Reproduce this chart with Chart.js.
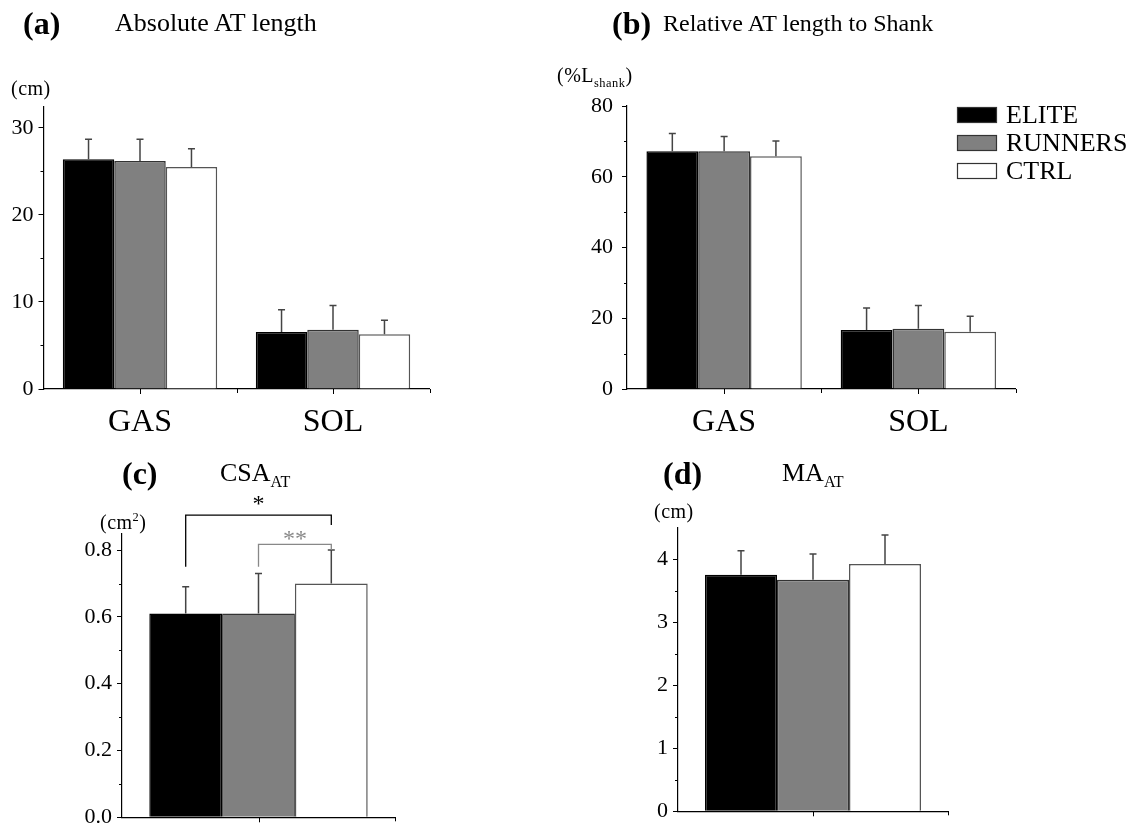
<!DOCTYPE html>
<html>
<head>
<meta charset="utf-8">
<script src="https://cdn.jsdelivr.net/npm/chart.js@4.4.1/dist/chart.umd.min.js"></script>
<style>
  body { margin: 0; background: #fff; }
  #wrap { position: relative; width: 1138px; height: 830px; font-family: 'Liberation Serif', 'Times New Roman', serif; color: #000; }
  canvas { position: absolute; }
  .t { position: absolute; white-space: nowrap; line-height: 30px; height: 30px; }
  .lt { font-weight: bold; font-size: 32px; }
  .ti { font-size: 26px; }
  .un { font-size: 20px; letter-spacing: 0.5px; }
  sub, sup { font-size: 62%; line-height: 0; }
</style>
</head>
<body>
<div id="wrap">
  <canvas id="chartA" width="560" height="440" style="left:0;top:0"></canvas>
  <canvas id="chartB" width="578" height="440" style="left:560px;top:0"></canvas>
  <canvas id="chartC" width="560" height="390" style="left:0;top:440px"></canvas>
  <canvas id="chartD" width="578" height="390" style="left:560px;top:440px"></canvas>

  <div class="t lt" style="left:23px;top:8px">(a)</div>
  <div class="t ti" style="left:115px;top:8px">Absolute AT length</div>
  <div class="t lt" style="left:612px;top:8px">(b)</div>
  <div class="t ti" style="left:663px;top:8px;font-size:24px">Relative AT length to Shank</div>
  <div class="t lt" style="left:122px;top:458px">(c)</div>
  <div class="t ti" style="left:220px;top:458px">CSA<sub>AT</sub></div>
  <div class="t lt" style="left:663px;top:458px">(d)</div>
  <div class="t ti" style="left:782px;top:458px">MA<sub>AT</sub></div>

  <div class="t un" style="left:11px;top:73px">(cm)</div>
  <div class="t un" style="left:557px;top:60px">(%L<sub>shank</sub>)</div>
  <div class="t un" style="left:100px;top:507px">(cm<sup>2</sup>)</div>
  <div class="t un" style="left:654px;top:496px">(cm)</div>
</div>

<script>
var groups = ['ELITE', 'RUNNERS', 'CTRL'];
var muscles = ['GAS', 'SOL'];

// (a) absolute AT length, cm
var absElite = [26.4, 6.55];
var absRunners = [26.2, 6.8];
var absCtrl = [25.5, 6.3];
var absEliteSd = [2.3, 2.55];
var absRunnersSd = [2.5, 2.8];
var absCtrlSd = [2.1, 1.6];
var absTicks = [0, 10, 20, 30];
var absMinor = [5, 15, 25];

// (b) relative AT length, % shank
var relElite = [67.2, 16.7];
var relRunners = [67.2, 17.0];
var relCtrl = [65.8, 16.2];
var relEliteSd = [5.0, 6.2];
var relRunnersSd = [4.2, 6.6];
var relCtrlSd = [4.3, 4.4];
var relTicks = [0, 20, 40, 60, 80];
var relMinor = [10, 30, 50, 70];

// (c) CSA, cm2
var csaMean = [0.61, 0.61, 0.70];
var csaSd = [0.08, 0.12, 0.10];
var csaTicks = [0, 0.2, 0.4, 0.6, 0.8];
var csaMinor = [0.1, 0.3, 0.5, 0.7];

// (d) moment arm, cm
var maMean = [3.75, 3.67, 3.92];
var maSd = [0.38, 0.41, 0.46];
var maTicks = [0, 1, 2, 3, 4];
var maMinor = [0.5, 1.5, 2.5, 3.5];

// significance brackets in (c): group index from/to, y of legs and bar
var sigFrom = [0, 1];
var sigTo = [2, 2];
var sigStart = [0.75, 0.75];
var sigTop = [0.905, 0.817];
var sigEnd = [0.875, 0.80];
var sigLabel = ['*', '**'];
var sigColor = ['#000', '#888'];

var fills = ['#000000', '#808080', '#ffffff'];
var edges = ['#000000', '#333333', '#555555'];
var serif = "'Liberation Serif', 'Times New Roman', serif";

function groupedSets(values, sds) {
    var sets = [];
    for (var i = 0; i < groups.length; i++) {
        sets.push({
            label: groups[i],
            data: values[i],
            sd: sds[i],
            backgroundColor: fills[i],
            borderColor: edges[i],
            borderWidth: 1.5,
            categoryPercentage: 0.8,
            barPercentage: 1.0
        });
    }
    return sets;
}

function singleSets(means, sds) {
    var v = [], s = [];
    for (var i = 0; i < means.length; i++) {
        v.push([means[i]]);
        s.push([sds[i]]);
    }
    return groupedSets(v, s);
}

// error bars, minor ticks, x ticks
var decoPlugin = {
    id: 'deco',
    afterDatasetsDraw: function (chart) {
        var ctx = chart.ctx;
        var ys = chart.scales.y;
        var xs = chart.scales.x;
        ctx.save();
        chart.data.datasets.forEach(function (ds, i) {
            var meta = chart.getDatasetMeta(i);
            meta.data.forEach(function (bar, j) {
                var top = ys.getPixelForValue(ds.data[j] + ds.sd[j]);
                ctx.strokeStyle = '#444';
                ctx.lineWidth = 1.5;
                ctx.beginPath();
                ctx.moveTo(bar.x, bar.y);
                ctx.lineTo(bar.x, top);
                ctx.moveTo(bar.x - 3.5, top);
                ctx.lineTo(bar.x + 3.5, top);
                ctx.stroke();
            });
        });
        // minor y ticks
        ctx.strokeStyle = '#000';
        ctx.lineWidth = 1;
        var minor = chart.options.plugins.deco.minor;
        minor.forEach(function (v) {
            var py = Math.round(ys.getPixelForValue(v)) + 0.5;
            ctx.beginPath();
            ctx.moveTo(chart.chartArea.left - 3, py);
            ctx.lineTo(chart.chartArea.left, py);
            ctx.stroke();
        });
        // x ticks at centres and boundaries
        var n = chart.data.labels.length;
        var w = (chart.chartArea.right - chart.chartArea.left) / n;
        var yb = chart.chartArea.bottom;
        for (var k = 0; k < n; k++) {
            var cx = Math.round(xs.getPixelForValue(k)) + 0.5;
            var bx = Math.round(xs.getPixelForValue(k) + w / 2) + 0.5;
            ctx.beginPath();
            ctx.moveTo(cx, yb);
            ctx.lineTo(cx, yb + 5);
            ctx.moveTo(bx, yb);
            ctx.lineTo(bx, yb + 4);
            ctx.stroke();
        }
        ctx.restore();
    },
    afterDraw: function (chart) {
        var o = chart.options.plugins.deco;
        var ctx = chart.ctx;
        ctx.save();
        if (o.legend) {
            chart.data.datasets.forEach(function (ds, i) {
                var cy = 115 + i * 28;
                ctx.fillStyle = ds.backgroundColor;
                ctx.fillRect(397, cy - 8, 40, 16);
                ctx.strokeStyle = '#333';
                ctx.lineWidth = 1.2;
                ctx.strokeRect(397.5, cy - 7.5, 39, 15);
                ctx.fillStyle = '#000';
                ctx.font = '26px ' + serif;
                ctx.textBaseline = 'middle';
                ctx.fillText(ds.label, 446, cy + 1);
            });
        }
        if (o.sig) {
            var ys = chart.scales.y;
            for (var s = 0; s < sigFrom.length; s++) {
                var x1 = chart.getDatasetMeta(sigFrom[s]).data[0].x;
                var x2 = chart.getDatasetMeta(sigTo[s]).data[0].x;
                var yt = ys.getPixelForValue(sigTop[s]);
                ctx.strokeStyle = sigColor[s];
                ctx.lineWidth = 1.3;
                ctx.beginPath();
                ctx.moveTo(x1, ys.getPixelForValue(sigStart[s]));
                ctx.lineTo(x1, yt);
                ctx.lineTo(x2, yt);
                ctx.lineTo(x2, ys.getPixelForValue(sigEnd[s]));
                ctx.stroke();
                ctx.fillStyle = sigColor[s];
                ctx.font = '24px ' + serif;
                ctx.textAlign = 'center';
                ctx.textBaseline = 'middle';
                ctx.fillText(sigLabel[s], (x1 + x2) / 2, yt - (s === 0 ? 10 : 5));
            }
        }
        ctx.restore();
    }
};

function makeChart(id, labels, sets, yMax, ticks, minor, fmt, box, extra) {
    var c = document.getElementById(id);
    return new Chart(c.getContext('2d'), {
        type: 'bar',
        data: { labels: labels, datasets: sets },
        plugins: [decoPlugin],
        options: {
            responsive: false,
            animation: false,
            layout: { padding: { top: box.top, right: box.right, left: 0, bottom: 0 } },
            plugins: {
                legend: { display: false },
                tooltip: { enabled: false },
                deco: { minor: minor, legend: extra.legend, sig: extra.sig }
            },
            scales: {
                x: {
                    grid: { display: false, drawTicks: false },
                    border: { display: true, color: '#000', width: 1.2 },
                    ticks: { font: { family: serif, size: 32 }, color: '#000', padding: 14, maxRotation: 0 },
                    afterFit: function (s) { s.height = box.xh; s.paddingLeft = 0; s.paddingRight = 0; }
                },
                y: {
                    min: 0,
                    max: yMax,
                    grid: { display: true, drawOnChartArea: false, drawTicks: true, tickLength: 5, color: '#000', lineWidth: 1 },
                    border: { display: true, color: '#000', width: 1.2 },
                    ticks: {
                        font: { family: serif, size: 22 },
                        color: '#000',
                        padding: box.pad,
                        callback: function (v) { return fmt(v); }
                    },
                    afterBuildTicks: function (s) { s.ticks = ticks.map(function (v) { return { value: v }; }); },
                    afterFit: function (s) { s.width = box.yw; s.paddingTop = 0; s.paddingBottom = 0; }
                }
            }
        }
    });
}

function plain(v) { return String(v); }
function oneDec(v) { return v.toFixed(1); }

makeChart('chartA', muscles,
    groupedSets([absElite, absRunners, absCtrl], [absEliteSd, absRunnersSd, absCtrlSd]),
    32.4, absTicks, absMinor, plain,
    { top: 107, right: 130.5, yw: 43.5, xh: 51, pad: 5 }, { legend: false, sig: false });

makeChart('chartB', muscles,
    groupedSets([relElite, relRunners, relCtrl], [relEliteSd, relRunnersSd, relCtrlSd]),
    80, relTicks, relMinor, plain,
    { top: 106, right: 122.5, yw: 67, xh: 51, pad: 9 }, { legend: true, sig: false });

makeChart('chartC', [''],
    singleSets(csaMean, csaSd),
    0.85, csaTicks, csaMinor, oneDec,
    { top: 93.4, right: 165, yw: 122, xh: 12.7, pad: 5 }, { legend: false, sig: true });

makeChart('chartD', [''],
    singleSets(maMean, maSd),
    4.5, maTicks, maMinor, plain,
    { top: 87.5, right: 190, yw: 118, xh: 18.7, pad: 5 }, { legend: false, sig: false });
</script>
</body>
</html>
